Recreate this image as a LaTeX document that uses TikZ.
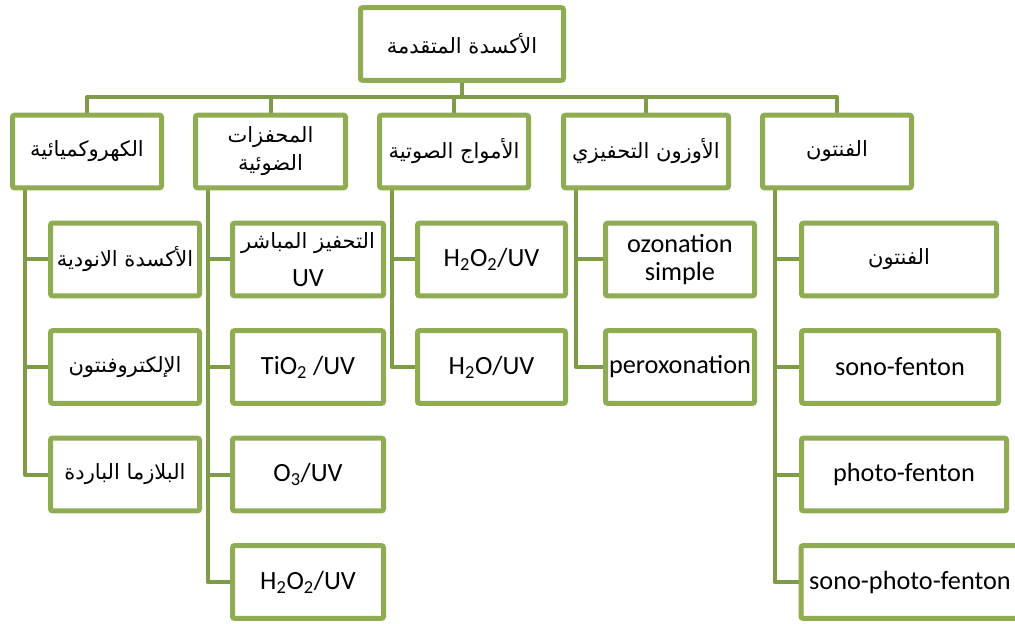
\documentclass[tikz,border=0pt]{standalone}
\usepackage{fontspec}
\setmainfont{Carlito}
\newfontfamily\arabicfont[Script=Arabic,Scale=0.8]{DejaVu Sans}
\TeXXeTstate=1
\usetikzlibrary{backgrounds}
\newcommand{\artext}[1]{{\arabicfont\beginR #1\endR}}
\definecolor{boxgreen}{RGB}{143,172,82}
\definecolor{linkgreen}{RGB}{127,155,70}
\tikzset{
  box/.style={draw=boxgreen, line width=3.75pt, fill=white, rounded corners=1.5pt,
    align=center, inner sep=2pt, minimum height=54.5pt,
    font=\fontsize{19.7}{21}\selectfont},
  wd/.style={minimum width=#1*0.75pt},
  link/.style={draw=linkgreen, line width=3pt, line join=round}
}
\begin{document}
\begin{tikzpicture}[x=0.75pt,y=-0.75pt]
\path[use as bounding box, clip] (0,0) rectangle (1015,624);
% root
\node[box, wd=203] (root) at (462,44) {\artext{الأكسدة المتقدمة}};
% first level
\node[box, wd=149] (k1) at (87,151.5) {\artext{الكهروكميائية}};
\node[box, wd=150] (k2) at (270.5,151.5) {\artext{المحفزات}\\\artext{الضوئية}};
\node[box, wd=149] (k3) at (454,151.5) {\artext{الأمواج الصوتية}};
\node[box, wd=165] (k4) at (646,151.5) {\artext{الأوزون التحفيزي}};
\node[box, wd=149] (k5) at (837,151.5) {\artext{الفنتون}};
% electrochemical
\node[box, wd=149] (k1a) at (125,259.5) {\artext{الأكسدة الانودية}};
\node[box, wd=149] (k1b) at (125,367) {\artext{الإلكتروفنتون}};
\node[box, wd=149] (k1c) at (125,474.5) {\artext{البلازما الباردة}};
% photocatalysis
\node[box, wd=151] (k2a) at (308,259.5) {\artext{التحفيز المباشر}\\[8pt]UV};
\node[box, wd=151] (k2b) at (308,367) {TiO\textsubscript{2} /UV};
\node[box, wd=151] (k2c) at (308,474.5) {O\textsubscript{3}/UV};
\node[box, wd=151] (k2d) at (308,582) {H\textsubscript{2}O\textsubscript{2}/UV};
% ultrasound
\node[box, wd=148] (k3a) at (491.5,259.5) {H\textsubscript{2}O\textsubscript{2}/UV};
\node[box, wd=148] (k3b) at (491.5,367) {H\textsubscript{2}O/UV};
% ozone
\node[box, wd=149] (k4a) at (680,259.5) {ozonation\\simple};
\node[box, wd=149] (k4b) at (680,367) {peroxonation};
% fenton
\node[box, wd=195] (k5a) at (899,259.5) {\artext{الفنتون}};
\node[box, wd=197] (k5b) at (900,367) {sono-fenton};
\node[box, wd=205] (k5c) at (904,474.5) {photo-fenton};
\node[box, wd=218] (k5d) at (910,582) {sono-photo-fenton};
\begin{scope}[on background layer]
\coordinate (bar) at (462,97);
\draw[link] (root.south) -- (bar);
\draw[link] (k1.north) |- (bar) -| (k5.north);
\foreach \k in {k2,k3,k4}
  \draw[link] (\k.north) -- (\k.north |- bar);
% child trunks
\foreach \k/\c in {k1/k1a,k1/k1b,k1/k1c,k2/k2a,k2/k2b,k2/k2c,k2/k2d,
                   k3/k3a,k3/k3b,k4/k4a,k4/k4b,k5/k5a,k5/k5b,k5/k5c,k5/k5d}
  \draw[link] ([xshift=11pt]\k.south west) |- (\c.west);
\end{scope}
\end{tikzpicture}
\end{document}
